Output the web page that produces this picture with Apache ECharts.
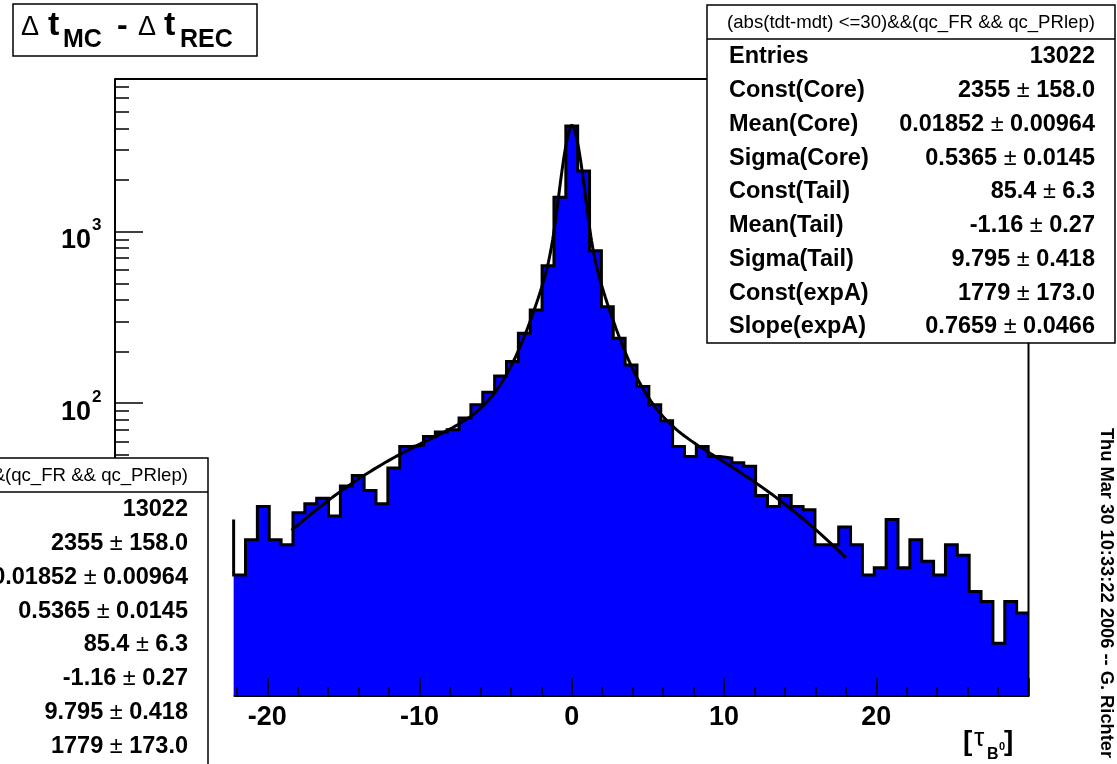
<!DOCTYPE html>
<html>
<head>
<meta charset="utf-8">
<script src="https://cdn.jsdelivr.net/npm/echarts@6/dist/echarts.min.js"></script>
<style>
  html, body { margin: 0; padding: 0; background: #ffffff; }
  #chart { width: 1117px; height: 764px; }
</style>
</head>
<body>
<div id="chart"></div>
<script>
// ---- histogram: 77 equal bins over [-30, 30]; bins below FIRST_FILLED_BIN are empty ----
const X_RANGE = [-30, 30];
const BIN_COUNT = 77;
const FIRST_FILLED_BIN = 10;
// entries per filled bin, from left to right
const counts = [
  10, 16, 25, 16, 15, 23, 26, 28, 22, 33, 38, 31, 26, 42,
  56, 57, 64, 68, 70, 82, 98, 116,
  144, 175, 256, 349, 633, 1584, 4121, 2254, 774,
  365, 239, 167, 125, 98, 79, 56,
  49, 56, 49, 48, 45, 43, 29, 25, 29, 25, 24,
  15, 15, 19, 15, 10, 11, 21, 11, 16, 12, 10, 15, 13, 8, 7, 4, 7, 6
];
// content of the bin just left of the drawn range (start of the outline)
const leadingLevel = [21];
const entries = [13022];

// ---- fit: core gaussian + tail gaussian + two-sided exponential ----
const fitNames = ['Const(Core)', 'Mean(Core)', 'Sigma(Core)', 'Const(Tail)', 'Mean(Tail)', 'Sigma(Tail)', 'Const(expA)', 'Slope(expA)'];
const fitValues = [2355, 0.01852, 0.5365, 85.4, -1.16, 9.795, 1779, 0.7659];
const fitValueText = ['2355', '0.01852', '0.5365', '85.4', '-1.16', '9.795', '1779', '0.7659'];
const fitErrorText = ['158.0', '0.00964', '0.0145', '6.3', '0.27', '0.418', '173.0', '0.0466'];
const fitRange = [-18.4, 18.0];

// ---- axes ----
const Y_RANGE = [1.97, 7745];
const yMajorTicks = [10, 100, 1000];
const yMinorTicks = [2, 3, 4, 5, 6, 7, 8, 9, 20, 30, 40, 50, 60, 70, 80, 90,
                     200, 300, 400, 500, 600, 700, 800, 900, 2000, 3000, 4000, 5000, 6000, 7000];

const statsTitle = '(abs(tdt-mdt) <=30)&&(qc_FR && qc_PRlep)';
const dateText = 'Thu Mar 30 10:33:22 2006 -- G. Richter';

const FONT = '"Liberation Sans", Arial, Helvetica, sans-serif';
const lg = Math.log10;

// bin edges and step outline (log10 of the counts on a linear axis)
const binWidth = (X_RANGE[1] - X_RANGE[0]) / BIN_COUNT;
const edges = [];
for (let i = 0; i <= counts.length; i++) edges.push(X_RANGE[0] + (FIRST_FILLED_BIN + i) * binWidth);
const outline = [[edges[0], lg(leadingLevel[0])]];
counts.forEach((c, i) => outline.push([edges[i], lg(c)]));
outline.push([edges[counts.length], lg(counts[counts.length - 1])]);

function fitModel(x) {
  const [cC, mC, sC, cT, mT, sT, cE, kE] = fitValues;
  return cC * Math.exp(-0.5 * Math.pow((x - mC) / sC, 2)) +
         cT * Math.exp(-0.5 * Math.pow((x - mT) / sT, 2)) +
         cE * Math.exp(-kE * Math.abs(x - mC));
}
const fitCurve = [];
const FIT_SAMPLES = 900;
for (let i = 0; i <= FIT_SAMPLES; i++) {
  const x = fitRange[0] + (fitRange[1] - fitRange[0]) * i / FIT_SAMPLES;
  fitCurve.push([x, lg(fitModel(x))]);
}

const chart = echarts.init(document.getElementById('chart'), null, { renderer: 'canvas' });

const tickStyle = { color: '#000', width: 1.5 };
chart.setOption({
  animation: false,
  backgroundColor: '#ffffff',
  grid: { left: 115, top: 79, width: 913.5, height: 617, show: false, containLabel: false, outerBoundsMode: 'none' },
  xAxis: {
    type: 'value', min: X_RANGE[0], max: X_RANGE[1], interval: 10, z: 5,
    axisLine: { show: false, onZero: false },
    axisTick: { show: true, inside: true, length: 18, lineStyle: tickStyle },
    minorTick: { show: true, splitNumber: 5, length: 9, lineStyle: tickStyle },
    splitLine: { show: false }, minorSplitLine: { show: false },
    axisLabel: {
      color: '#000', fontFamily: FONT, fontWeight: 'bold', fontSize: 27, margin: 8,
      showMaxLabel: false,
      formatter: v => (v >= X_RANGE[1] ? '' : String(v))
    }
  },
  yAxis: [
    {
      type: 'value', min: lg(Y_RANGE[0]), max: lg(Y_RANGE[1]), position: 'left', z: 5,
      axisLine: { show: true, onZero: false, lineStyle: { color: '#000', width: 2 } },
      axisTick: { show: true, inside: true, length: 28, lineStyle: tickStyle, customValues: yMajorTicks.map(lg) },
      axisLabel: { show: false },
      splitLine: { show: false }
    },
    {
      type: 'value', min: lg(Y_RANGE[0]), max: lg(Y_RANGE[1]), position: 'left', offset: 0, z: 5,
      axisLine: { show: false, onZero: false },
      axisTick: { show: true, inside: true, length: 14, lineStyle: tickStyle, customValues: yMinorTicks.map(lg) },
      axisLabel: { show: false },
      splitLine: { show: false }
    }
  ],
  series: [
    {
      type: 'line', data: outline, step: 'end', symbol: 'none', z: 2,
      lineStyle: { color: '#000', width: 3, join: 'miter' },
      areaStyle: { color: '#0000ff', opacity: 1, origin: 'start' }
    },
    {
      type: 'line', data: fitCurve, symbol: 'none', z: 3, smooth: false,
      lineStyle: { color: '#000', width: 3 }
    }
  ]
});

// ---- frame lines, labels and boxes, placed through the axes ----
const px = (x, y) => chart.convertToPixel({ gridIndex: 0 }, [x, y]);
const yTop = lg(Y_RANGE[1]), yBot = lg(Y_RANGE[0]);
const frameStyle = { stroke: '#000', lineWidth: 2, fill: null };

function txt(text, x, y, size, weight, extra) {
  return Object.assign({
    type: 'text', z: 100,
    style: {
      text, x, y, fill: '#000',
      fontFamily: FONT, fontSize: size, fontWeight: weight,
      align: 'left', verticalAlign: 'middle', textAlign: 'left', textVerticalAlign: 'middle'
    }
  }, extra || {});
}

function statsBox(x0, y0) {
  const W = 408, H = 338, HDR = 34, ROW0 = 52, ROWH = 33.75;
  const kids = [
    { type: 'rect', z: 100, shape: { x: 0, y: 0, width: W, height: H }, style: { fill: '#fff', stroke: '#000', lineWidth: 1.5 } },
    { type: 'line', z: 101, shape: { x1: 0, y1: HDR, x2: W, y2: HDR }, style: { stroke: '#000', lineWidth: 1.5 } }
  ];
  const head = txt(statsTitle, W / 2, HDR / 2 + 1, 18.6, 'normal');
  head.style.align = head.style.textAlign = 'center';
  head.z = 101;
  kids.push(head);
  const names = ['Entries'].concat(fitNames);
  names.forEach((name, k) => {
    const yy = ROW0 + k * ROWH;
    const lab = txt(name, 22, yy, 23.5, 'bold');
    lab.z = 101;
    kids.push(lab);
    const value = k === 0
      ? '{v|' + entries[0] + '}'
      : '{v|' + fitValueText[k - 1] + '}{p| \u00b1 }{v|' + fitErrorText[k - 1] + '}';
    kids.push({
      type: 'text', z: 101,
      style: {
        text: value, x: W - 20, y: yy, fill: '#000',
        fontFamily: FONT, fontSize: 23.5, fontWeight: 'bold',
        align: 'right', verticalAlign: 'middle', textAlign: 'right', textVerticalAlign: 'middle',
        rich: {
          v: { fontFamily: FONT, fontSize: 23.5, fontWeight: 'bold', fill: '#000' },
          p: { fontFamily: FONT, fontSize: 23.5, fontWeight: 'normal', fill: '#000' }
        }
      }
    });
  });
  return { type: 'group', x: x0, y: y0, z: 100, children: kids };
}

function drawDecorations() {
  const tl = px(X_RANGE[0], yTop), tr = px(X_RANGE[1], yTop);
  const br = px(X_RANGE[1], yBot), bl = px(edges[0], yBot);
  const elements = [
    { type: 'polyline', z: 50, shape: { points: [tl, tr, br, bl] }, style: frameStyle },
    // title box
    { type: 'rect', z: 100, shape: { x: 13, y: 4, width: 244, height: 52 }, style: { fill: '#fff', stroke: '#000', lineWidth: 1.5 } },
    txt('\u0394', 21, 28, 27, 'normal'),
    txt('t', 48, 26, 34, 'bold'),
    txt('MC', 63, 40, 25, 'bold'),
    txt('-', 117, 26, 32, 'bold'),
    txt('\u0394', 138, 28, 27, 'normal'),
    txt('t', 164, 26, 34, 'bold'),
    txt('REC', 180, 40, 25, 'bold'),
    // axis title [tau_B0]
    txt('[', 963, 742, 28, 'bold'),
    txt('\u03c4', 974, 739, 26, 'normal'),
    txt('B', 987, 755, 16, 'bold'),
    txt('0', 999, 747, 11, 'bold'),
    txt(']', 1004, 742, 28, 'bold'),
    // stats boxes
    statsBox(707, 5),
    statsBox(-200, 458)
  ];
  // decade labels 10^k beside the log axis
  yMajorTicks.forEach(v => {
    const p = px(X_RANGE[0], lg(v));
    const base = txt('10', p[0] - 24, p[1] + 9, 27, 'bold', { z: 60 });
    base.style.align = base.style.textAlign = 'right';
    elements.push(base);
    elements.push(txt(String(Math.round(lg(v))), p[0] - 23, p[1] - 6, 17, 'bold', { z: 60 }));
  });
  const date = txt(dateText, 0, 0, 18.3, 'bold', { x: 1106, y: 593, rotation: -Math.PI / 2 });
  date.style.align = date.style.textAlign = 'center';
  elements.push(date);
  chart.setOption({ graphic: { elements } });
}
drawDecorations();
</script>
</body>
</html>
